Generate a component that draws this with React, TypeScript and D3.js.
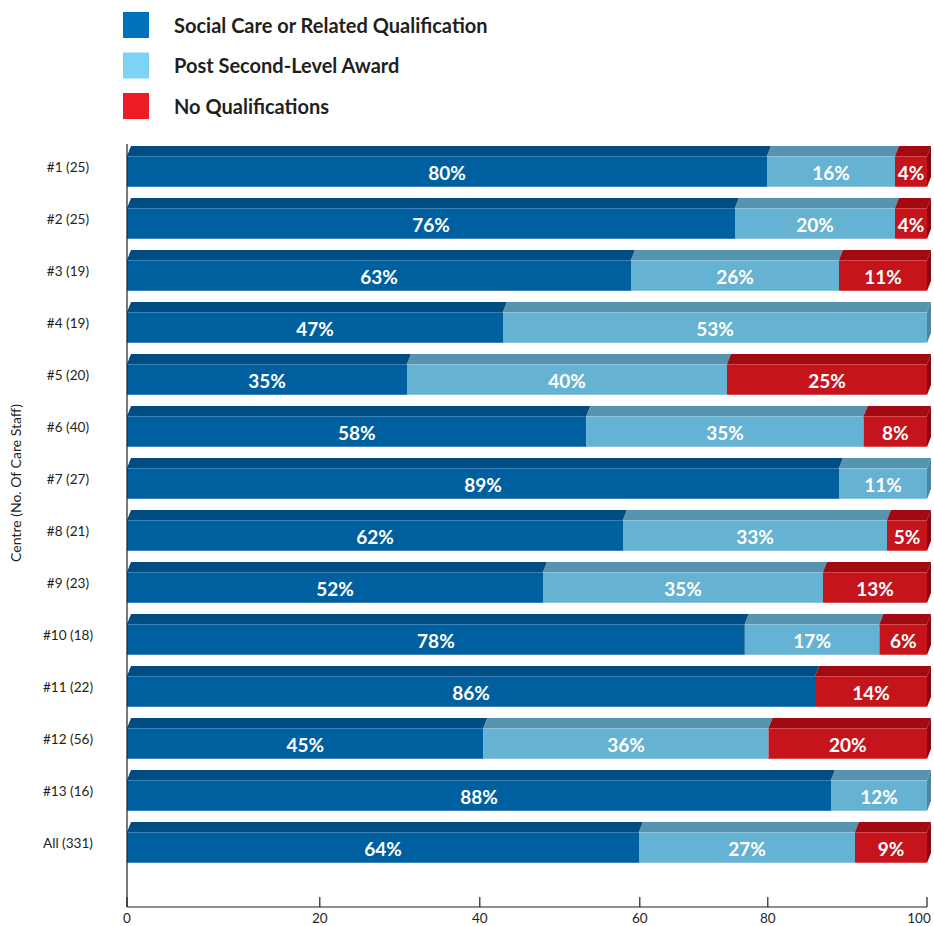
import React from "react";
import * as d3 from "d3";

const categories = ["#1 (25)", "#2 (25)", "#3 (19)", "#4 (19)", "#5 (20)", "#6 (40)", "#7 (27)", "#8 (21)", "#9 (23)", "#10 (18)", "#11 (22)", "#12 (56)", "#13 (16)", "All (331)"];
const socialCare = [80, 76, 63, 47, 35, 58, 89, 62, 52, 78, 86, 45, 88, 64];
const postSecond = [16, 20, 26, 53, 40, 35, 11, 33, 35, 17, 0, 36, 12, 27];
const noQual = [4, 4, 11, 0, 25, 8, 0, 5, 13, 6, 14, 20, 0, 9];
const seriesNames = ["Social Care or Related Qualification", "Post Second-Level Award", "No Qualifications"];
// tick labels as printed, and where the source chart places them along the 0-100 scale
const xTickLabels = ["0", "20", "40", "60", "80", "100"];
const xTickAt = [0, 24.1, 44.1, 64.1, 80.1, 100];

const legendColors = ["#0072bc", "#7dd3f6", "#ed1c24"];
const frontColors = ["#005f9f", "#66b2d2", "#c5141c"];
const topColors = ["#004d84", "#5593ae", "#a20a12"];
const sideColors = ["#003f6e", "#4c86a0", "#8c0810"];
const edgeColors = ["#3b82b8", "#8cc6de", "#d94a50"];

const W = 934;
const H = 926;
const FONT = "Lato, 'Open Sans', sans-serif";

export default function App() {
  const x = d3.scaleLinear().domain([0, 100]).range([127, 927]);
  const y = d3.scaleBand<string>().domain(categories).range([146, 146 + 52 * categories.length]).padding(0);
  const dx = 4;
  const dy = 10;
  const frontH = 31;
  const axisY = 907;

  const series = [socialCare, postSecond, noQual];

  const rows = categories.map((c, i) => {
    const vals = series.map((s) => s[i]);
    const sum = d3.sum(vals);
    let acc = 0;
    const segs = vals.map((v, k) => {
      const x0 = acc;
      acc += (v / sum) * 100;
      return { k, v, x0, x1: acc };
    }).filter((s) => s.v > 0);
    return { c, segs };
  });

  return (
    <svg width={W} height={H} style={{ position: "absolute", left: 0, top: 0, background: "#fff" }}>
      {/* legend */}
      {seriesNames.map((n, k) => (
        <g key={n}>
          <rect x={123} y={12 + k * 40.5} width={26} height={26} fill={legendColors[k]} />
          <text x={174} y={32.5 + k * 40.5} fontFamily={FONT} fontWeight={700} fontSize={20} fill="#231f20">{n}</text>
        </g>
      ))}

      {/* bars */}
      {rows.map((r) => {
        const top = (y(r.c) as number) + dy;
        const bottom = top + frontH;
        const last = r.segs[r.segs.length - 1];
        return (
          <g key={r.c}>
            {r.segs.map((s) => {
              const a = x(s.x0);
              const b = x(s.x1);
              return (
                <g key={s.k}>
                  <polygon
                    points={`${a},${top} ${b},${top} ${b + dx},${top - dy} ${a + dx},${top - dy}`}
                    fill={topColors[s.k]}
                  />
                  <rect x={a} y={top} width={b - a} height={frontH} fill={frontColors[s.k]} />
                  <line x1={a} x2={b} y1={top + 0.5} y2={top + 0.5} stroke={edgeColors[s.k]} strokeWidth={1} />
                  <line x1={a} x2={b} y1={bottom - 0.5} y2={bottom - 0.5} stroke={edgeColors[s.k]} strokeWidth={1} />
                </g>
              );
            })}
            <polygon
              points={`${x(last.x1)},${top} ${x(last.x1) + dx},${top - dy} ${x(last.x1) + dx},${bottom - dy} ${x(last.x1)},${bottom}`}
              fill={sideColors[last.k]}
            />
            {r.segs.map((s) => (
              <text
                key={"t" + s.k}
                x={(x(s.x0) + x(s.x1)) / 2}
                y={top + 23.5}
                textAnchor="middle"
                fontFamily={FONT}
                fontWeight={700}
                fontSize={19}
                fill="#ffffff"
              >
                {s.v}%
              </text>
            ))}
            <text
              x={68}
              y={(y(r.c) as number) + 21}
              dominantBaseline="central"
              textAnchor="middle"
              fontFamily={FONT}
              fontSize={13.6}
              fill="#231f20"
            >
              {r.c}
            </text>
          </g>
        );
      })}

      {/* axes */}
      <line x1={127} x2={127} y1={144} y2={axisY} stroke="#231f20" strokeWidth={1.2} />
      <line x1={127} x2={927} y1={axisY} y2={axisY} stroke="#231f20" strokeWidth={1.2} />
      {xTickAt.map((t, i) => (
        <g key={i}>
          <line x1={x(t)} x2={x(t)} y1={axisY - 10} y2={axisY} stroke="#231f20" strokeWidth={1.2} />
          <text
            x={Math.min(x(t), W - 15)}
            y={923}
            textAnchor="middle"
            fontFamily={FONT}
            fontSize={13.5}
            fill="#231f20"
          >
            {xTickLabels[i]}
          </text>
        </g>
      ))}
      <text
        transform={`translate(21,483) rotate(-90)`}
        textAnchor="middle"
        fontFamily={FONT}
        fontSize={14}
        fill="#231f20"
      >
        Centre (No. Of Care Staff)
      </text>
    </svg>
  );
}
